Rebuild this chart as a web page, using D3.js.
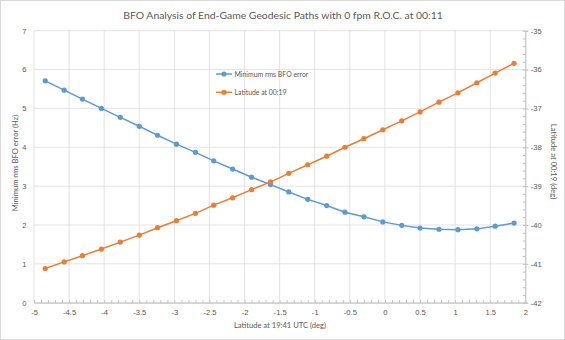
<!DOCTYPE html>
<html><head><meta charset="utf-8">
<script src="https://cdn.jsdelivr.net/npm/d3@7"></script>
<style>body{margin:0;background:#fff;}svg{display:block;font-family:Lato,"Open Sans",sans-serif;}</style>
</head><body><svg id="c" width="565" height="340"></svg>
<script>
const latitude1941 = [-4.84,-4.57,-4.31,-4.04,-3.77,-3.50,-3.24,-2.97,-2.70,-2.44,-2.17,-1.90,-1.63,-1.37,-1.10,-0.83,-0.57,-0.30,-0.03,0.24,0.50,0.77,1.04,1.31,1.57,1.84];
const rmsBfoError = [5.71,5.47,5.24,5.00,4.77,4.54,4.31,4.08,3.87,3.65,3.44,3.23,3.04,2.85,2.66,2.50,2.33,2.21,2.08,1.99,1.92,1.89,1.88,1.90,1.97,2.05];
const latitude0019 = [-41.12,-40.95,-40.79,-40.62,-40.44,-40.26,-40.07,-39.89,-39.70,-39.49,-39.30,-39.09,-38.89,-38.67,-38.45,-38.23,-38.00,-37.78,-37.55,-37.32,-37.09,-36.84,-36.60,-36.34,-36.09,-35.84];
const xTicks = [-5,-4.5,-4,-3.5,-3,-2.5,-2,-1.5,-1,-0.5,0,0.5,1,1.5,2];
const yLeftTicks = [0,1,2,3,4,5,6,7];
const yRightTicks = [-42,-41,-40,-39,-38,-37,-36,-35];
const seriesNames = ["Minimum rms BFO error","Latitude at 00:19"];
const titleText = "BFO Analysis of End-Game Geodesic Paths with 0 fpm R.O.C. at 00:11";
const xTitle = "Latitude at 19:41 UTC (deg)";
const yLeftTitle = "Minimum rms BFO error (Hz)";
const yRightTitle = "Latitude at 00:19 (deg)";

const svg = d3.select("#c");
const L=34, R=525.3, T=30.7, B=302.7;
const txt="#595959", grid="#d9d9d9", blue="#5b9bd5", orange="#ed7d31";
const fs=7.6;
const fmt = d => String(d);
const x = d3.scaleLinear().domain([-5,2]).range([L,R]);
const yl = d3.scaleLinear().domain([0,7]).range([B,T]);
const yr = d3.scaleLinear().domain([-42,-35]).range([B,T]);

svg.append("rect").attr("x",0.5).attr("y",0.5).attr("width",564).attr("height",339).attr("fill","#fff").attr("stroke","#d9d9d9");

// gridlines
svg.append("g").selectAll("line").data(xTicks).join("line")
  .attr("x1",d=>x(d)).attr("x2",d=>x(d)).attr("y1",T).attr("y2",B).attr("stroke",grid).attr("stroke-width",0.75);
svg.append("g").selectAll("line").data(yLeftTicks).join("line")
  .attr("x1",L).attr("x2",R).attr("y1",d=>yl(d)).attr("y2",d=>yl(d)).attr("stroke",grid).attr("stroke-width",0.75);

// bottom axis
const xa = svg.append("g").attr("transform",`translate(0,${B})`)
  .call(d3.axisBottom(x).tickValues(xTicks).tickSize(0).tickPadding(7).tickFormat(fmt));
xa.select(".domain").attr("stroke","#bfbfbf");
xa.selectAll("text").attr("fill",txt).attr("font-size",fs);
const minorX = d3.range(-50,21).map(v=>v/10);
svg.append("g").attr("transform",`translate(0,${B})`)
  .call(d3.axisTop(x).tickValues(minorX).tickSize(2.5).tickFormat(""))
  .call(g=>{g.select(".domain").remove();g.selectAll("line").attr("stroke","#bfbfbf");});

// left axis
const ya = svg.append("g").attr("transform",`translate(${L},0)`)
  .call(d3.axisLeft(yl).tickValues(yLeftTicks).tickSize(0).tickPadding(7.5).tickFormat(fmt));
ya.select(".domain").remove();
ya.selectAll("text").attr("fill",txt).attr("font-size",fs);

// right axis
const yra = svg.append("g").attr("transform",`translate(${R},0)`)
  .call(d3.axisRight(yr).tickValues(yRightTicks).tickSize(3).tickPadding(2.5).tickFormat(fmt));
yra.select(".domain").attr("stroke","#bfbfbf");
yra.selectAll("line").attr("stroke","#bfbfbf");
yra.selectAll("text").attr("fill",txt).attr("font-size",fs);
const minorY = d3.range(-420,-349,2).map(v=>v/10);
svg.append("g").attr("transform",`translate(${R},0)`)
  .call(d3.axisLeft(yr).tickValues(minorY).tickSize(2.5).tickFormat(""))
  .call(g=>{g.select(".domain").remove();g.selectAll("line").attr("stroke","#bfbfbf");});

// series
const ptsB = latitude1941.map((v,i)=>[v,rmsBfoError[i]]);
const ptsO = latitude1941.map((v,i)=>[v,latitude0019[i]]);
function series(pts, ys, col){
  const g=svg.append("g");
  g.append("path").datum(pts).attr("fill","none").attr("stroke",col).attr("stroke-width",1.5)
   .attr("d",d3.line().x(d=>x(d[0])).y(d=>ys(d[1])));
  g.selectAll("circle").data(pts).join("circle").attr("cx",d=>x(d[0])).attr("cy",d=>ys(d[1])).attr("r",2.6).attr("fill",col);
}
series(ptsB, yl, blue);
series(ptsO, yr, orange);

// legend
const lg = svg.append("g");
[blue,orange].forEach((c,i)=>{
  const yy = 74 + i*18.3;
  lg.append("line").attr("x1",216).attr("x2",232).attr("y1",yy).attr("y2",yy).attr("stroke",c).attr("stroke-width",1.5);
  lg.append("circle").attr("cx",224).attr("cy",yy).attr("r",2.6).attr("fill",c);
  lg.append("text").attr("x",234.5).attr("y",yy+2.5).attr("font-size",6.9).attr("fill",txt).text(seriesNames[i]);
});

// titles
svg.append("text").attr("x",283).attr("y",19).attr("text-anchor","middle").attr("font-size",10.4).attr("fill",txt).text(titleText);
svg.append("text").attr("x",280).attr("y",327.5).attr("text-anchor","middle").attr("font-size",fs).attr("fill",txt).text(xTitle);
svg.append("text").attr("transform","translate(17.5,163) rotate(-90)").attr("text-anchor","middle").attr("font-size",fs).attr("fill",txt).text(yLeftTitle);
svg.append("text").attr("transform","translate(550.5,161.5) rotate(90)").attr("text-anchor","middle").attr("font-size",fs).attr("fill",txt).text(yRightTitle);
</script></body></html>
